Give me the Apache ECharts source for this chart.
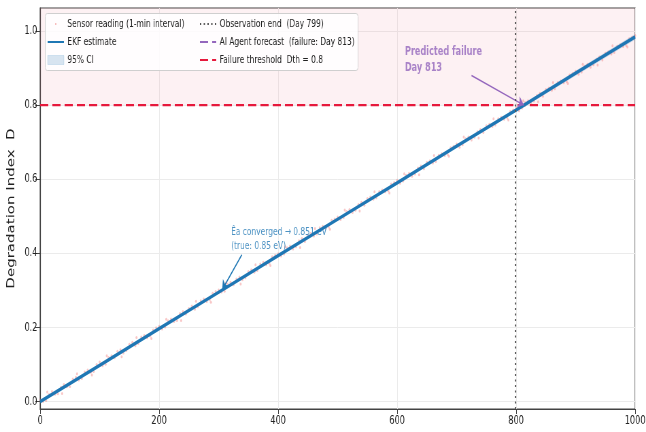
<!DOCTYPE html>
<html><head><meta charset="utf-8">
<script src="https://cdn.jsdelivr.net/npm/echarts@6/dist/echarts.min.js"></script>
<style>html,body{margin:0;padding:0;background:#fff;overflow:hidden;width:646px;height:432px}
#c{width:950px;height:432px;transform:scaleX(0.68);transform-origin:0 0}</style>
</head><body><div id="c"></div>
<script>
var xTicks = [0, 200, 400, 600, 800, 1000];
var yTicks = [0.0, 0.2, 0.4, 0.6, 0.8, 1.0];
var sensorReadings = [
[0,0.004],[5,0.000],[10,0.003],[15,0.019],[20,0.027],[25,0.020],[30,0.021],[35,0.039],[40,0.046],[45,0.040],
[50,0.041],[55,0.061],[60,0.066],[65,0.058],[70,0.062],[75,0.080],[80,0.085],[85,0.079],[90,0.081],[95,0.100],
[100,0.107],[105,0.097],[110,0.101],[115,0.119],[120,0.124],[125,0.118],[130,0.136],[135,0.140],[140,0.131],[145,0.138],
[150,0.155],[155,0.160],[160,0.151],[165,0.157],[170,0.174],[175,0.178],[180,0.172],[185,0.177],[190,0.193],[195,0.199],
[200,0.203],[205,0.196],[210,0.201],[215,0.218],[220,0.223],[225,0.216],[230,0.219],[235,0.238],[240,0.243],[245,0.236],
[250,0.251],[255,0.258],[260,0.249],[265,0.256],[270,0.272],[275,0.277],[280,0.270],[285,0.275],[290,0.292],[295,0.297],
[300,0.301],[305,0.296],[310,0.298],[315,0.317],[320,0.322],[325,0.315],[330,0.331],[335,0.336],[340,0.329],[345,0.334],
[350,0.351],[355,0.356],[360,0.349],[365,0.354],[370,0.371],[375,0.376],[380,0.369],[385,0.373],[390,0.391],[395,0.395],
[400,0.399],[405,0.393],[410,0.398],[415,0.415],[420,0.420],[425,0.412],[430,0.418],[435,0.434],[440,0.440],[445,0.432],
[450,0.449],[455,0.454],[460,0.447],[465,0.452],[470,0.469],[475,0.473],[480,0.468],[485,0.471],[490,0.489],[495,0.493],
[500,0.498],[505,0.491],[510,0.497],[515,0.513],[520,0.518],[525,0.510],[530,0.516],[535,0.532],[540,0.538],[545,0.530],
[550,0.548],[555,0.552],[560,0.546],[565,0.550],[570,0.567],[575,0.571],[580,0.566],[585,0.569],[590,0.587],[595,0.591],
[600,0.597],[605,0.589],[610,0.595],[615,0.611],[620,0.616],[625,0.608],[630,0.614],[635,0.630],[640,0.636],[645,0.628],
[650,0.646],[655,0.650],[660,0.644],[665,0.648],[670,0.665],[675,0.669],[680,0.664],[685,0.667],[690,0.685],[695,0.689],
[700,0.695],[705,0.686],[710,0.693],[715,0.709],[720,0.714],[725,0.706],[730,0.713],[735,0.728],[740,0.734],[745,0.726],
[750,0.744],[755,0.748],[760,0.742],[765,0.746],[770,0.763],[775,0.767],[780,0.762],[785,0.765],[790,0.783],[795,0.787],
[800,0.793],[805,0.785],[810,0.792],[815,0.807],[820,0.812],[825,0.804],[830,0.811],[835,0.826],[840,0.832],[845,0.824],
[850,0.842],[855,0.846],[860,0.840],[865,0.844],[870,0.861],[875,0.865],[880,0.860],[885,0.863],[890,0.881],[895,0.885],
[900,0.891],[905,0.883],[910,0.889],[915,0.905],[920,0.910],[925,0.902],[930,0.909],[935,0.924],[940,0.930],[945,0.922],
[950,0.940],[955,0.944],[960,0.938],[965,0.942],[970,0.959],[975,0.963],[980,0.958],[985,0.961],[990,0.979],[995,0.983],[1000,0.988],
[12,0.026],[37,0.022],[62,0.075],[87,0.072],[112,0.124],[137,0.121],[162,0.173],[187,0.170],[212,0.222],[237,0.219],
[262,0.271],[287,0.268],[312,0.320],[337,0.317],[362,0.369],[387,0.367],[412,0.418],[437,0.416],[462,0.467],[487,0.465],
[512,0.517],[537,0.514],[562,0.566],[587,0.563],[612,0.615],[637,0.612],[662,0.664],[687,0.662],[712,0.714],[737,0.711],
[762,0.763],[787,0.760],[812,0.812],[837,0.809],[862,0.861],[887,0.858],[912,0.910],[937,0.908],[962,0.960],[987,0.957]
];
var ekfDays = [0, 100, 200, 300, 400, 500, 600, 700, 799, 900, 1000];
var ekfValues = [0.000, 0.098, 0.197, 0.295, 0.394, 0.492, 0.590, 0.689, 0.786, 0.886, 0.984];
var ciLower = [-0.005, 0.093, 0.192, 0.290, 0.389, 0.487, 0.585, 0.684, 0.781, 0.879, 0.976];
var ciUpper = [0.005, 0.103, 0.202, 0.300, 0.399, 0.497, 0.595, 0.694, 0.791, 0.893, 0.992];
var forecastDays = [799, 813, 1000];
var forecastValues = [0.786, 0.800, 0.984];
var observationEnd = 799;
var failureDay = 813;
var threshold = 0.8;
var yMin = -0.02, yMax = 1.062;

var chart = echarts.init(document.getElementById('c'));
var FONT = '"DejaVu Sans", sans-serif';
function pairs(xs, ys){ return xs.map(function(x,i){ return [x, ys[i]]; }); }
var ciData = ekfDays.map(function(d,i){ return [d, ciLower[i], ciUpper[i]]; });

var legendCommon = {
  top: 17, orient: 'vertical', padding: 0, itemGap: 4, itemWidth: 24, itemHeight: 9, z: 10,
  textStyle: {fontFamily: FONT, fontSize: 11, color: '#222', lineHeight: 14}
};

var option = {
  animation: false,
  textStyle: {fontFamily: FONT},
  grid: {left: 59, right: 16, top: 8, bottom: 23, show: true, borderColor: '#444', borderWidth: 1.2,
    backgroundColor: 'transparent', outerBoundsMode: 'none', containLabel: false},
  graphic: [{
    type: 'rect', left: 66, top: 13, z: 9, silent: true,
    shape: {width: 460, height: 57, r: 3},
    style: {fill: 'rgba(255,255,255,0.85)', stroke: '#cfcfcf', lineWidth: 1}
  }],
  legend: [
    Object.assign({}, legendCommon, {
      left: 69,
      data: [
        {name: 'Sensor reading (1-min interval)', icon: 'path://M0,0 M24,10 M11,4 L13,4 L13,6 L11,6 Z', itemStyle: {color: 'rgba(240,128,128,0.7)'}},
        {name: 'EKF estimate', itemStyle: {opacity: 0}},
        {name: '95% CI', icon: 'rect', itemStyle: {color: 'rgba(31,119,180,0.18)', borderColor: 'rgba(31,119,180,0.3)', borderWidth: 0.5}}
      ]
    }),
    Object.assign({}, legendCommon, {
      left: 293,
      data: [
        {name: 'Observation end  (Day 799)', itemStyle: {opacity: 0}},
        {name: 'AI Agent forecast  (failure: Day 813)', itemStyle: {opacity: 0}},
        {name: 'Failure threshold  Dth = 0.8', itemStyle: {opacity: 0}}
      ]
    })
  ],
  xAxis: {
    type: 'value', min: 0, max: 1000, interval: 200,
    axisLine: {show: true, onZero: false, lineStyle: {color: '#444', width: 1.2}},
    axisTick: {show: true, length: 5, lineStyle: {color: '#444'}},
    axisLabel: {fontSize: 12, color: '#222', fontFamily: FONT, margin: 6, formatter: function(v){ return String(v); }},
    splitLine: {show: true, lineStyle: {color: '#ebebeb', width: 1}}
  },
  yAxis: {
    type: 'value', min: yMin, max: yMax,
    name: 'Degradation Index  D', nameLocation: 'middle', nameGap: 34, nameMoveOverlap: false,
    nameTextStyle: {fontSize: 15, color: '#222', fontFamily: FONT},
    axisLine: {show: true, onZero: false, lineStyle: {color: '#444', width: 1.2}},
    axisTick: {show: true, length: 7, lineStyle: {color: '#444'}, customValues: yTicks},
    axisLabel: {fontSize: 12, color: '#222', fontFamily: FONT, margin: 4, customValues: yTicks,
      formatter: function(v){ return v.toFixed(1); }},
    splitLine: {show: true, lineStyle: {color: '#ebebeb', width: 1}}
  },
  series: [
    {
      name: 'Failure threshold  Dth = 0.8', type: 'line', z: 3,
      data: [[0, threshold], [1000, threshold]], showSymbol: false, symbol: 'none',
      lineStyle: {color: '#e6193c', width: 2.2, type: [12, 6]}, itemStyle: {color: '#e6193c'},
      markArea: {silent: true, itemStyle: {color: 'rgba(240,120,140,0.1)'},
        data: [[{yAxis: threshold}, {yAxis: yMax}]]}
    },
    {
      name: 'Sensor reading (1-min interval)', type: 'scatter', z: 2,
      data: sensorReadings, symbolSize: 3, itemStyle: {color: 'rgba(240,128,128,0.55)'}
    },
    {
      name: '95% CI', type: 'custom', z: 2, silent: true,
      data: ciData, encode: {x: 0, y: [1, 2]},
      itemStyle: {color: 'rgba(31,119,180,0.2)'},
      renderItem: function(params, api){
        if (params.dataIndex !== 0) return null;
        var up = [], lo = [];
        for (var i = 0; i < ciData.length; i++){
          up.push(api.coord([ciData[i][0], ciData[i][2]]));
          lo.unshift(api.coord([ciData[i][0], ciData[i][1]]));
        }
        return {type: 'polygon', shape: {points: up.concat(lo)}, style: {fill: 'rgba(31,119,180,0.2)'}};
      }
    },
    {
      name: 'AI Agent forecast  (failure: Day 813)', type: 'line', z: 3,
      data: pairs(forecastDays, forecastValues), symbol: 'none',
      lineStyle: {color: '#9467bd', width: 2.2, type: [12, 6]}, itemStyle: {color: '#9467bd'}
    },
    {
      name: 'EKF estimate', type: 'line', z: 4,
      data: pairs(ekfDays, ekfValues), symbol: 'none',
      lineStyle: {color: '#1f77b4', width: 3.5}, itemStyle: {color: '#1f77b4'}
    },
    {
      name: 'Observation end  (Day 799)', type: 'line', z: 5,
      data: [[observationEnd, yMin], [observationEnd, yMax]], symbol: 'none',
      lineStyle: {color: '#555', width: 2, type: [2, 3.5]}, itemStyle: {color: '#555'}
    },
    {
      name: 'annotations', type: 'scatter', z: 6, symbolSize: 0, silent: true,
      data: [
        {value: [613, 0.965], label: {show: true, position: 'right', distance: 0, align: 'left', verticalAlign: 'top',
          formatter: 'Predicted failure\nDay 813', color: '#9467bd', fontWeight: 'bold', fontSize: 12, lineHeight: 16, fontFamily: FONT}},
        {value: [321, 0.475], label: {show: true, position: 'right', distance: 0, align: 'left', verticalAlign: 'top',
          formatter: 'Êa converged → 0.851 eV\n(true: 0.85 eV)', color: '#1f77b4', fontSize: 11, lineHeight: 14, fontFamily: FONT}}
      ],
      markLine: {
        silent: true, symbol: ['none', 'arrow'], symbolSize: [9, 9], label: {show: false},
        data: [
          [{coord: [725, 0.88], lineStyle: {color: '#9467bd', width: 1.5, type: 'solid'}}, {coord: [failureDay, threshold]}],
          [{coord: [339, 0.396], lineStyle: {color: '#1f77b4', width: 1.5, type: 'solid'}}, {coord: [306, 0.302]}]
        ]
      }
    }
  ]
};
chart.setOption(option);
</script></body></html>
